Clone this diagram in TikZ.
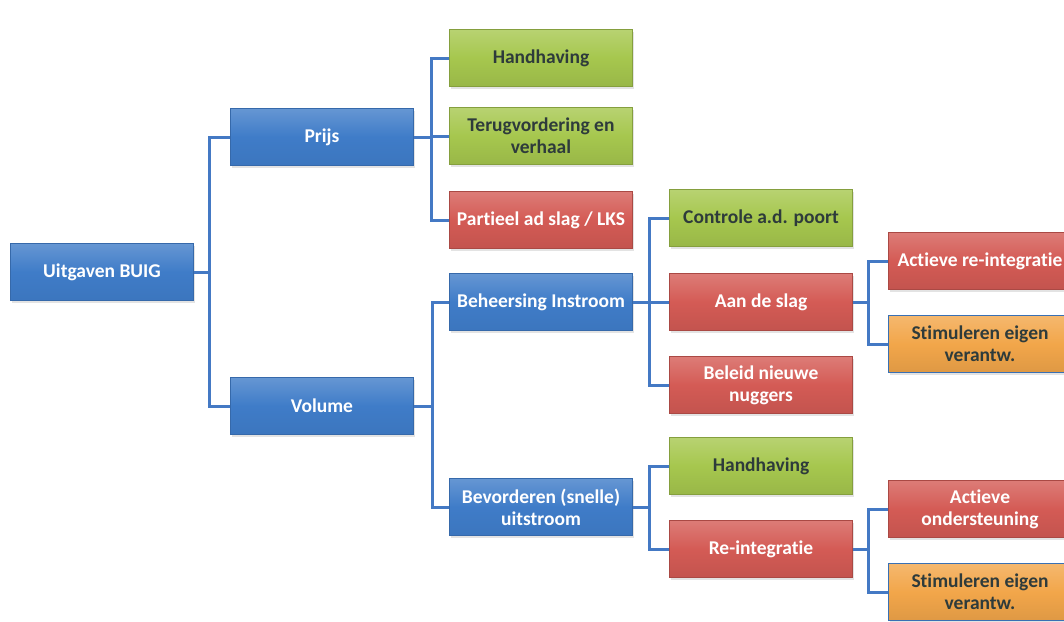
\documentclass[tikz,border=0pt]{standalone}
\usepackage{fontspec}
\setmainfont{Carlito}[Ligatures=NoCommon]
\usetikzlibrary{shadows}
\definecolor{cblue}{HTML}{3F7CC8}
\definecolor{cgreen}{HTML}{A6C74E}
\definecolor{cred}{HTML}{D45B55}
\definecolor{corange}{HTML}{F2A64A}
\definecolor{cline}{HTML}{4479C4}
\definecolor{dtext}{HTML}{2E3B3B}
\begin{document}
\begin{tikzpicture}[x=1pt,y=-1pt,
  box/.style={rectangle, minimum width=183pt, minimum height=57pt, inner sep=2pt, align=center,
    font=\bfseries\fontsize{19.5}{22}\selectfont, line width=0.6pt,
    drop shadow={opacity=0.22, shadow xshift=1pt, shadow yshift=-2pt}},
  bluebox/.style={box, draw=cblue!85!black, top color=cblue!80!white, bottom color=cblue!95!black, middle color=cblue, text=white},
  greenbox/.style={box, draw=cgreen!80!black, top color=cgreen!80!white, bottom color=cgreen!92!black, middle color=cgreen, text=dtext},
  redbox/.style={box, draw=cred!80!black, top color=cred!80!white, bottom color=cred!92!black, middle color=cred, text=white},
  orangebox/.style={box, draw=cblue!90!black, top color=corange!80!white, bottom color=corange!92!black, middle color=corange, text=dtext},
  conn/.style={draw=cline, line width=3pt}
]
\useasboundingbox (0,0) rectangle (1064,621);
\clip (0,0) rectangle (1064,621);
\fill[white] (0,0) rectangle (1064,621);

% connectors (drawn first, behind boxes)
\coordinate (r0) at (194,272);
\coordinate (p0) at (414,137);
\coordinate (v0) at (413,406);
\coordinate (b0) at (633,302);
\coordinate (d0) at (633,507);
\coordinate (a0) at (852,302);
\coordinate (i0) at (852,549);

% level 0
\node[bluebox] (root) at (102,272) {Uitgaven BUIG};
% level 1
\node[bluebox] (prijs) at (322,137) {Prijs};
\node[bluebox] (volume) at (322,406) {Volume};
% level 2
\node[greenbox] (hand1) at (541,58) {Handhaving};
\node[greenbox] (terug) at (541,136) {Terugvordering en\\verhaal};
\node[redbox] (partieel) at (541,220) {Partieel ad slag / LKS};
\node[bluebox] (beheer) at (541,302) {Beheersing Instroom};
\node[bluebox] (bevord) at (541,507) {Bevorderen (snelle)\\uitstroom};
% level 3
\node[greenbox] (controle) at (761,218) {Controle a.d. poort};
\node[redbox] (aande) at (761,302) {Aan de slag};
\node[redbox] (beleid) at (761,385) {Beleid nieuwe\\nuggers};
\node[greenbox] (hand2) at (761,466) {Handhaving};
\node[redbox] (reint) at (761,549) {Re-integratie};
% level 4
\node[redbox] (actre) at (980,261) {Actieve re-integratie};
\node[orangebox] (stim1) at (980,344) {Stimuleren eigen\\verantw.};
\node[redbox] (actond) at (980,509) {Actieve\\ondersteuning};
\node[orangebox] (stim2) at (980,592) {Stimuleren eigen\\verantw.};

% connectors
\path[conn] (root.east) -- ++(16,0) |- (prijs.west);
\path[conn] (root.east) -- ++(16,0) |- (volume.west);
\foreach \c in {hand1,terug,partieel}
  \path[conn] (prijs.east) -- ++(18,0) |- (\c.west);
\foreach \c in {beheer,bevord}
  \path[conn] (volume.east) -- ++(19,0) |- (\c.west);
\foreach \c in {controle,aande,beleid}
  \path[conn] (beheer.east) -- ++(17,0) |- (\c.west);
\foreach \c in {hand2,reint}
  \path[conn] (bevord.east) -- ++(17,0) |- (\c.west);
\foreach \c in {actre,stim1}
  \path[conn] (aande.east) -- ++(16,0) |- (\c.west);
\foreach \c in {actond,stim2}
  \path[conn] (reint.east) -- ++(16,0) |- (\c.west);
\end{tikzpicture}
\end{document}
